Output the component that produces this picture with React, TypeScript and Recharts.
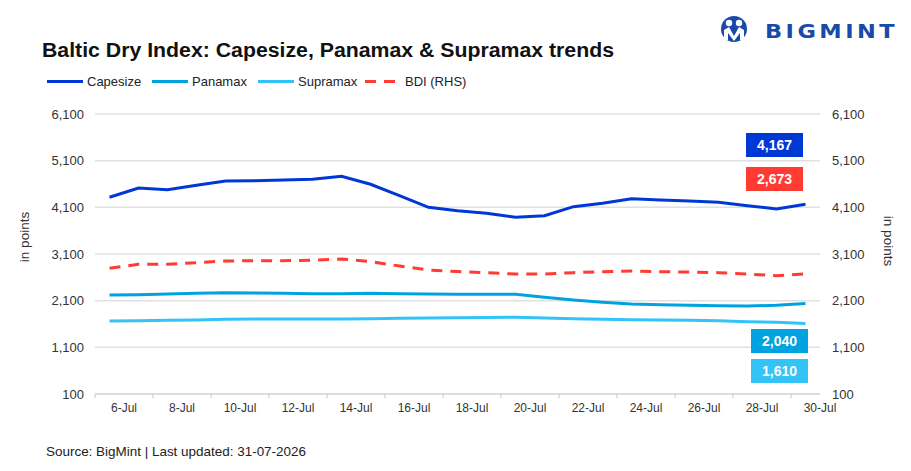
import { CartesianGrid, Line, LineChart, XAxis, YAxis } from "recharts";

const dates = [
  "6-Jul", "7-Jul", "8-Jul", "9-Jul", "10-Jul", "11-Jul", "12-Jul", "13-Jul",
  "14-Jul", "15-Jul", "16-Jul", "17-Jul", "18-Jul", "19-Jul", "20-Jul", "21-Jul",
  "22-Jul", "23-Jul", "24-Jul", "25-Jul", "26-Jul", "27-Jul", "28-Jul", "29-Jul",
  "30-Jul",
];

const capesize = [
  4315, 4515, 4478, 4572, 4665, 4671, 4686, 4700, 4765, 4594, 4350, 4100, 4028,
  3972, 3887, 3921, 4114, 4186, 4286, 4257, 4236, 4208, 4136, 4064, 4167,
];

const panamax = [
  2222, 2229, 2243, 2258, 2272, 2265, 2258, 2250, 2250, 2258, 2250, 2243, 2240,
  2238, 2236, 2172, 2114, 2065, 2029, 2014, 2000, 1993, 1986, 2000, 2040,
];

const supramax = [
  1664, 1671, 1679, 1686, 1700, 1707, 1707, 1707, 1707, 1714, 1721, 1729, 1736,
  1740, 1743, 1729, 1714, 1700, 1693, 1686, 1679, 1671, 1650, 1636, 1610,
];

const bdi = [
  2793, 2879, 2879, 2914, 2950, 2957, 2957, 2965, 2993, 2936, 2843, 2757, 2725,
  2700, 2671, 2671, 2700, 2721, 2736, 2721, 2714, 2700, 2671, 2636, 2673,
];

const yTicks = [100, 1100, 2100, 3100, 4100, 5100, 6100];

const COLORS = {
  capesize: "#0038D6",
  panamax: "#00A3E0",
  supramax: "#33C3F7",
  bdi: "#FF3B33",
};

const FONT = "'Liberation Sans', Arial, sans-serif";
const HALF_BAND = 14.5;

const data = dates.map((d, i) => ({
  date: d,
  capesize: capesize[i],
  panamax: panamax[i],
  supramax: supramax[i],
  bdi: bdi[i],
}));

const fmt = (v: number) => v.toLocaleString("en-US");
const last = (arr: number[]) => arr[arr.length - 1];

function DateTick(props: any) {
  const { x, y, payload } = props;
  return (
    <g>
      <line
        x1={x - HALF_BAND}
        x2={x - HALF_BAND}
        y1={y}
        y2={y + 4}
        stroke="#d9d9d9"
        strokeWidth={1.5}
      />
      <text
        x={x + HALF_BAND}
        y={y + 18}
        textAnchor="middle"
        fontSize={12}
        fill="#333"
        fontFamily={FONT}
      >
        {payload.value}
      </text>
    </g>
  );
}

const legendItems = [
  { label: "Capesize", color: COLORS.capesize, x: 47, dashed: false },
  { label: "Panamax", color: COLORS.panamax, x: 152, dashed: false },
  { label: "Supramax", color: COLORS.supramax, x: 258, dashed: false },
  { label: "BDI (RHS)", color: COLORS.bdi, x: 365, dashed: true },
];

const badges = [
  { value: last(capesize), color: COLORS.capesize, x: 746, y: 133 },
  { value: last(bdi), color: COLORS.bdi, x: 746, y: 167 },
  { value: last(panamax), color: COLORS.panamax, x: 751, y: 329 },
  { value: last(supramax), color: COLORS.supramax, x: 751, y: 359 },
];

function Overlay() {
  return (
    <svg
      width={911}
      height={471}
      style={{ position: "absolute", left: 0, top: 0, pointerEvents: "none" }}
      fontFamily={FONT}
    >
      {/* logo */}
      <g>
        <circle cx={734} cy={29} r={13} fill="#1a4aa8" />
        <circle cx={729} cy={23} r={3.2} fill="#fff" />
        <circle cx={739} cy={23} r={3.2} fill="#fff" />
        <path
          d="M724 30 L729 27 L734 36 L739 27 L744 30 L744 40 L740 40 L740 33 L734 41 L728 33 L728 40 L724 40 Z"
          fill="#fff"
        />
        <text
          x={765}
          y={38}
          fontSize={19.5}
          fontWeight={700}
          fill="#1a4aa8"
          fontFamily="'DejaVu Sans', sans-serif"
          textLength={133}
          lengthAdjust="spacingAndGlyphs"
          letterSpacing={3}
        >
          BIGMINT
        </text>
      </g>

      <text
        x={42}
        y={57}
        fontSize={19.5}
        fontWeight={700}
        fill="#111"
        textLength={572}
        lengthAdjust="spacingAndGlyphs"
      >
        Baltic Dry Index: Capesize, Panamax &amp; Supramax trends
      </text>

      {legendItems.map((it) => (
        <g key={it.label}>
          <line
            x1={it.x}
            x2={it.x + 36}
            y1={81.5}
            y2={81.5}
            stroke={it.color}
            strokeWidth={3}
            strokeDasharray={it.dashed ? "11 8" : undefined}
          />
          <text x={it.x + 40} y={86} fontSize={13} fill="#222">
            {it.label}
          </text>
        </g>
      ))}

      <text
        transform="translate(29 237) rotate(-90)"
        textAnchor="middle"
        fontSize={13.5}
        fill="#333"
      >
        in points
      </text>
      <text
        transform="translate(884 241) rotate(90)"
        textAnchor="middle"
        fontSize={13.5}
        fill="#333"
      >
        in points
      </text>

      {badges.map((b) => (
        <g key={b.color}>
          <rect x={b.x} y={b.y} width={57} height={24} fill={b.color} />
          <text
            x={b.x + 28.5}
            y={b.y + 17}
            textAnchor="middle"
            fontSize={14}
            fontWeight={700}
            fill="#fff"
          >
            {fmt(b.value)}
          </text>
        </g>
      ))}

      <text
        x={46}
        y={456}
        fontSize={13}
        fill="#222"
        textLength={260}
        lengthAdjust="spacingAndGlyphs"
      >
        Source: BigMint | Last updated: 31-07-2026
      </text>
    </svg>
  );
}

export default function App() {
  return (
    <div
      style={{
        position: "fixed",
        left: 0,
        top: 0,
        width: 911,
        height: 471,
        background: "#fff",
        fontFamily: FONT,
      }}
    >
      <div style={{ position: "absolute", left: 0, top: 0 }}>
        <LineChart
          width={911}
          height={471}
          data={data}
          margin={{ top: 114, right: 31, bottom: 47, left: 35 }}
        >
          <CartesianGrid
            yAxisId="left"
            vertical={false}
            stroke="#e0e0e0"
            strokeWidth={1.5}
          />
          <XAxis
            dataKey="date"
            interval={1}
            padding={{ left: HALF_BAND, right: HALF_BAND }}
            axisLine={{ stroke: "#d9d9d9", strokeWidth: 1.5 }}
            tickLine={false}
            tickSize={0}
            tickMargin={0}
            height={30}
            tick={<DateTick />}
          />
          <YAxis
            yAxisId="left"
            width={60}
            domain={[100, 6100]}
            ticks={yTicks}
            tickFormatter={fmt}
            axisLine={false}
            tickLine={false}
            tickSize={0}
            tickMargin={11}
            tick={{ fontSize: 13, fill: "#333", fontFamily: FONT }}
          />
          <YAxis
            yAxisId="right"
            orientation="right"
            width={60}
            domain={[100, 6100]}
            ticks={yTicks}
            tickFormatter={fmt}
            axisLine={false}
            tickLine={false}
            tickSize={0}
            tickMargin={12}
            tick={{ fontSize: 13, fill: "#333", fontFamily: FONT }}
          />
          <Line
            yAxisId="left"
            type="linear"
            dataKey="supramax"
            stroke={COLORS.supramax}
            strokeWidth={3}
            dot={false}
            isAnimationActive={false}
          />
          <Line
            yAxisId="left"
            type="linear"
            dataKey="panamax"
            stroke={COLORS.panamax}
            strokeWidth={3}
            dot={false}
            isAnimationActive={false}
          />
          <Line
            yAxisId="right"
            type="linear"
            dataKey="bdi"
            stroke={COLORS.bdi}
            strokeWidth={3}
            strokeDasharray="11 8"
            dot={false}
            isAnimationActive={false}
          />
          <Line
            yAxisId="left"
            type="linear"
            dataKey="capesize"
            stroke={COLORS.capesize}
            strokeWidth={3}
            dot={false}
            isAnimationActive={false}
          />
        </LineChart>
      </div>
      <Overlay />
    </div>
  );
}
